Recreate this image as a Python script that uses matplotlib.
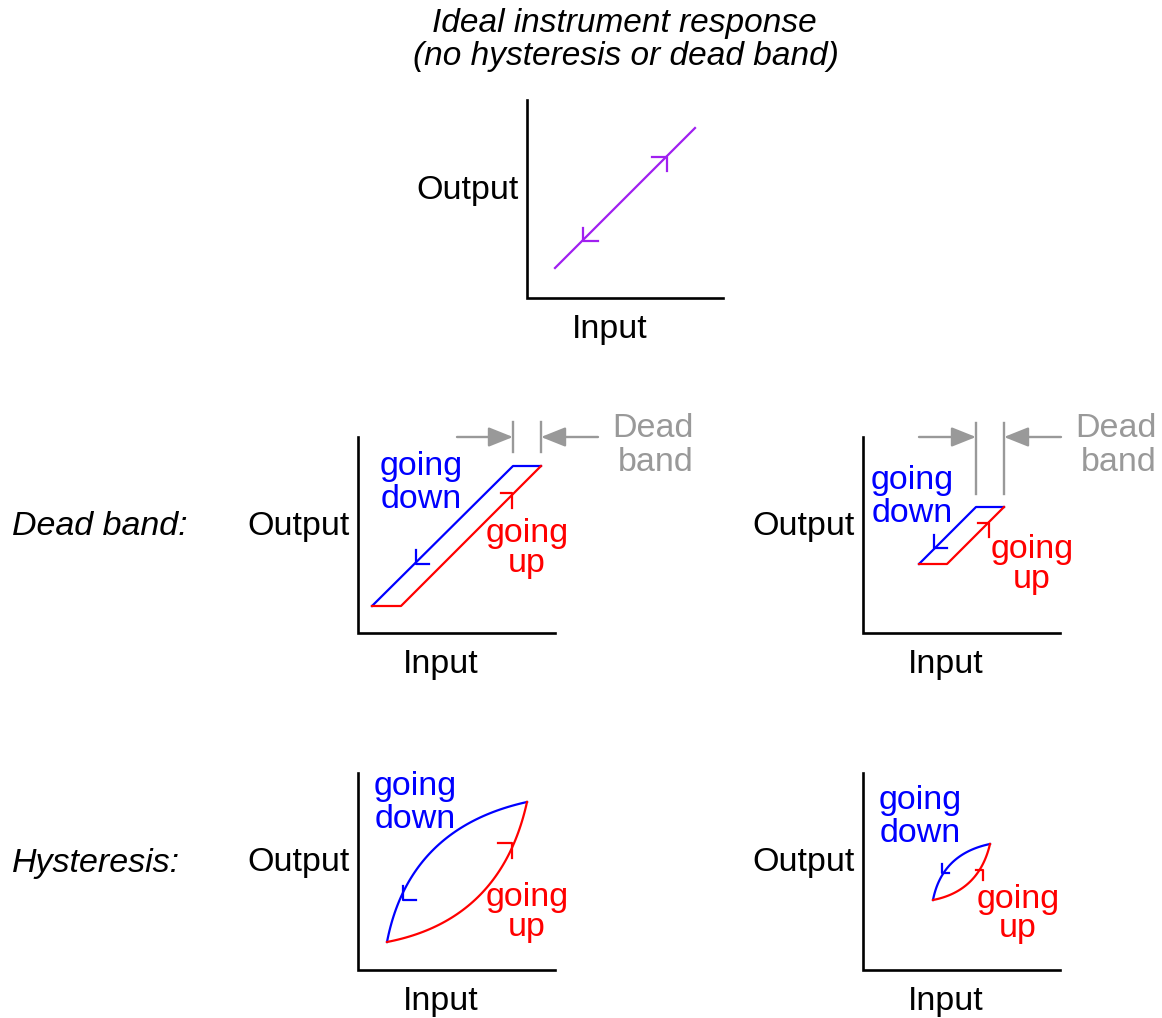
import numpy as np
import matplotlib
matplotlib.use("Agg")
import matplotlib.pyplot as plt

plt.rcParams['font.family'] = ['Liberation Sans', 'DejaVu Sans']

W, H = 1162, 1018
FS = 24.5
BLUE, RED, GRAY, PURPLE = '#0000ff', '#ff0000', '#999999', '#a020f0'

# axis boxes: (left x, top y, bottom y, right x) in pixel units
ideal_axes = (527, 100, 298, 723)
panel_axes = [(358, 437, 633, 555), (863, 437, 633, 1060),
              (358, 773, 970, 555), (863, 773, 970, 1060)]

# ideal response line
ideal_x = [555, 695]
ideal_y = [268, 128]

# dead band parallelograms
db_down_x = [[541, 513, 372], [1004, 976, 919]]
db_down_y = [[466, 466, 606], [507, 507, 564]]
db_up_x = [[372, 401, 541], [919, 947, 1004]]
db_up_y = [[606, 606, 466], [564, 564, 507]]
db_marks_x = [(513, 541), (976, 1004)]
db_marks_y = [(422, 452), (423, 494)]
db_arrow_y = [437, 437]
db_arrow_tail = [(457, 598), (919, 1061)]
db_label_x = [694, 1157]

# hysteresis curves (start, control, end) quadratic beziers
hy_start = [(387, 942), (933, 900)]
hy_end = [(527, 802), (990, 844)]
hy_down_ctrl = [(409, 828), (942, 854)]
hy_up_ctrl = [(501, 920), (979, 891)]

# half arrows: corner (x, y), horizontal end x, vertical end y
up_arrows = [((667, 157), 652, 171), ((512, 493), 501, 508), ((989, 523), 978, 537),
             ((512, 843), 498, 858), ((983, 870), 976, 880)]
down_arrows = [((583, 241), 598, 228), ((416, 564), 429, 550), ((934, 548), 947, 535),
               ((403, 900), 416, 886), ((942, 873), 949, 864)]
up_colors = [PURPLE, RED, RED, RED, RED]
down_colors = [PURPLE, BLUE, BLUE, BLUE, BLUE]

# labels: center x, baseline y of each line
down_labels = [(421, 475, 508), (912, 489, 522), (415, 795, 828), (920, 809, 842)]
up_labels = [(527, 542, 572), (1032, 558, 588), (527, 906, 936), (1018, 908, 937)]

fig = plt.figure(figsize=(W / 100, H / 100), dpi=100)
ax = fig.add_axes([0, 0, 1, 1])
ax.set_xlim(0, W)
ax.set_ylim(H, 0)
ax.axis('off')


def draw_axes(box):
    x0, y0, y1, x1 = box
    ax.plot([x0, x0, x1], [y0, y1, y1], color='black', lw=1.9, solid_joinstyle='miter')
    ax.text(x0 - 8, (y0 + y1) / 2, 'Output', fontsize=FS, ha='right', va='baseline')
    ax.text(x0 + 83, y1 + 40, 'Input', fontsize=FS, ha='center', va='baseline')


def bezier(p0, p1, p2, n=60):
    t = np.linspace(0, 1, n)[:, None]
    pts = (1 - t) ** 2 * np.array(p0) + 2 * (1 - t) * t * np.array(p1) + t ** 2 * np.array(p2)
    return pts[:, 0], pts[:, 1]


# title
ax.text(624, 32, 'Ideal instrument response', fontsize=24, style='italic',
        ha='center', va='baseline')
ax.text(626, 65, '(no hysteresis or dead band)', fontsize=24, style='italic',
        ha='center', va='baseline')

draw_axes(ideal_axes)
for box in panel_axes:
    draw_axes(box)

ax.text(12, 535, 'Dead band:', fontsize=FS, style='italic', ha='left', va='baseline')
ax.text(12, 872, 'Hysteresis:', fontsize=FS, style='italic', ha='left', va='baseline')

ax.plot(ideal_x, ideal_y, color=PURPLE, lw=1.6)

for i in range(2):
    ax.plot(db_down_x[i], db_down_y[i], color=BLUE, lw=1.6)
    ax.plot(db_up_x[i], db_up_y[i], color=RED, lw=1.6)
    for mx in db_marks_x[i]:
        ax.plot([mx, mx], db_marks_y[i], color=GRAY, lw=1.7)
    left_tail, right_tail = db_arrow_tail[i]
    ax.annotate('', xy=(db_marks_x[i][0], db_arrow_y[i]), xytext=(left_tail, db_arrow_y[i]),
                arrowprops=dict(arrowstyle='-|>,head_length=0.5,head_width=0.2', color=GRAY,
                                lw=1.7, mutation_scale=30, shrinkA=0, shrinkB=0))
    ax.annotate('', xy=(db_marks_x[i][1], db_arrow_y[i]), xytext=(right_tail, db_arrow_y[i]),
                arrowprops=dict(arrowstyle='-|>,head_length=0.5,head_width=0.2', color=GRAY,
                                lw=1.7, mutation_scale=30, shrinkA=0, shrinkB=0))
    ax.text(db_label_x[i], 437, 'Dead', fontsize=FS, color=GRAY, ha='right', va='baseline')
    ax.text(db_label_x[i], 471, 'band', fontsize=FS, color=GRAY, ha='right', va='baseline')

for i in range(2):
    bx, by = bezier(hy_start[i], hy_down_ctrl[i], hy_end[i])
    ax.plot(bx, by, color=BLUE, lw=1.6)
    rx, ry = bezier(hy_start[i], hy_up_ctrl[i], hy_end[i])
    ax.plot(rx, ry, color=RED, lw=1.6)

for ((cx, cy), hx, vy), c in zip(up_arrows, up_colors):
    ax.plot([hx, cx, cx], [cy, cy, vy], color=c, lw=1.6)
for ((cx, cy), hx, vy), c in zip(down_arrows, down_colors):
    ax.plot([cx, cx, hx], [vy, cy, cy], color=c, lw=1.6)

for x, y1, y2 in down_labels:
    ax.text(x, y1, 'going', fontsize=FS, color=BLUE, ha='center', va='baseline')
    ax.text(x, y2, 'down', fontsize=FS, color=BLUE, ha='center', va='baseline')
for x, y1, y2 in up_labels:
    ax.text(x, y1, 'going', fontsize=FS, color=RED, ha='center', va='baseline')
    ax.text(x, y2, 'up', fontsize=FS, color=RED, ha='center', va='baseline')

fig.savefig('out.png', dpi=100, facecolor='white')
